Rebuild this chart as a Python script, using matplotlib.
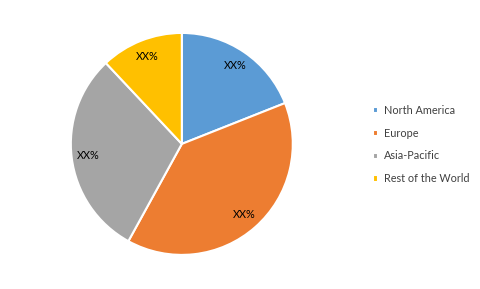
import matplotlib
matplotlib.use("Agg")
import matplotlib.pyplot as plt

categories = ["North America", "Europe", "Asia-Pacific", "Rest of the World"]
values = [19, 39, 30, 12]
labels_text = ["XX%", "XX%", "XX%", "XX%"]
colors = ["#5B9BD5", "#ED7D31", "#A5A5A5", "#FFC000"]

plt.rcParams['font.family'] = ['Lato', 'DejaVu Sans']

fig = plt.figure(figsize=(4.81, 2.89), dpi=100)
ax = fig.add_axes([0.378 - 0.2308, 0.502 - 0.384, 0.4616, 0.768])
wedges, texts = ax.pie(values, colors=colors, startangle=90, counterclock=False,
                       wedgeprops=dict(edgecolor="white", linewidth=1.5),
                       labels=labels_text, labeldistance=0.85, rotatelabels=False,
                       textprops=dict(fontsize=7.8, color="#000000", ha="center", va="center"))
for t in texts:
    t.set_horizontalalignment("center")
    t.set_rotation(0)
ax.set_aspect("equal")
ax.set_xlim(-1, 1)
ax.set_ylim(-1, 1)

leg = fig.legend(wedges, categories, loc="center left", bbox_to_anchor=(0.755, 0.5),
                 frameon=False, fontsize=7.8, handlelength=0.5, handleheight=0.5,
                 handletextpad=0.5, labelspacing=1.1, labelcolor="#404040")
fig.savefig("out.png", dpi=100)
